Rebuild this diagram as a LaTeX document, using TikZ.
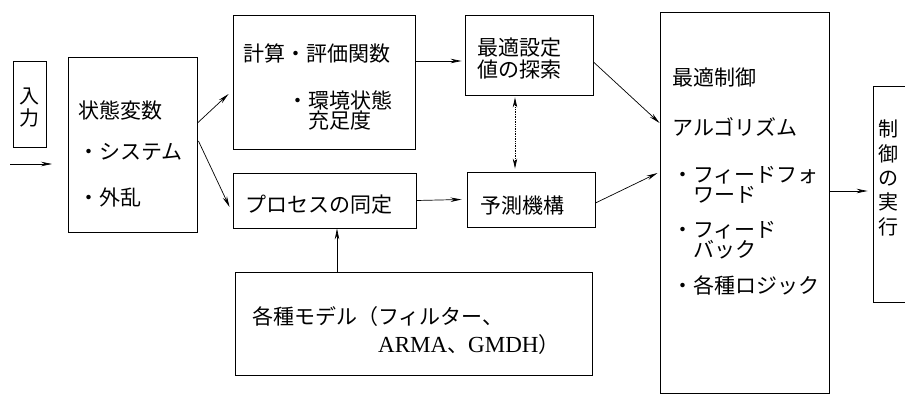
\documentclass[tikz,border=0pt]{standalone}
\usepackage{fontspec}
\setmainfont{Liberation Serif}
\newfontfamily\cjk{Noto Sans CJK JP}
\usetikzlibrary{arrows.meta}
\begin{document}
\begin{tikzpicture}[x=1pt,y=-1pt,
  box/.style={draw,line width=0.9pt,inner sep=0pt},
  txt/.style={anchor=west,inner sep=0pt,font=\cjk\fontsize{21}{22}\selectfont},
  two/.style={anchor=west,inner sep=0pt,align=left,font=\cjk\fontsize{21}{19.5}\selectfont},
  vtxt/.style={inner sep=0pt,align=center},
  arr/.style={-{Stealth[length=11pt,width=4.5pt]},line width=0.7pt},
  darr/.style={{Stealth[length=10pt,width=4.5pt]}-{Stealth[length=10pt,width=4.5pt]},line width=0.7pt,densely dotted}]
\useasboundingbox (0,0) rectangle (905,396);
% boxes
\node[box,minimum width=33pt,minimum height=86pt] (inbox) at (29.5,104) {};
\node[box,minimum width=129pt,minimum height=175pt] (state) at (132.5,144.5) {};
\node[box,minimum width=182pt,minimum height=134pt] (calc) at (324,82) {};
\node[box,minimum width=128pt,minimum height=80pt] (opt) at (529,55) {};
\node[box,minimum width=183pt,minimum height=55pt] (proc) at (324.5,200.5) {};
\node[box,minimum width=128pt,minimum height=55pt] (pred) at (531,199.5) {};
\node[box,minimum width=357pt,minimum height=103pt] (model) at (413.5,323.5) {};
\node[box,minimum width=169pt,minimum height=381pt] (ctrl) at (744.5,202.5) {};
\node[box,minimum width=44pt,minimum height=216pt] (exec) at (895,194) {};
% texts
\node[vtxt,font=\cjk\fontsize{20}{22}\selectfont] (tin) at (29.5,108) {入\\力};
\node[txt] (s1) at (78,110) {状態変数};
\node[txt] (s2) at (78,152) {・システム};
\node[txt] (s3) at (78,197) {・外乱};
\node[txt] (c1) at (243,53) {計算・評価関数};
\node[txt] (c2) at (287,100) {・環境状態};
\node[txt] (c3) at (308,121) {充足度};
\node[txt] (o1) at (477,48) {最適設定};
\node[txt] (o2) at (477,70) {値の探索};
\node[txt] (p1) at (245,205) {プロセスの同定};
\node[txt] (r1) at (480,206) {予測機構};
\node[txt] (m1) at (252,317) {各種モデル（フィルター、};
\node[txt] (m2) at (378,345) {{\rmfamily\fontsize{23}{22}\selectfont ARMA}、{\rmfamily\fontsize{23}{22}\selectfont GMDH}）};
\node[txt] (k1) at (672,78) {最適制御};
\node[txt] (k2) at (672,127) {アルゴリズム};
\node[two] (k3) at (672,185) {・フィードフォ\\\hspace*{1em}ワード};
\node[two] (k5) at (672,240) {・フィード\\\hspace*{1em}バック};
\node[txt] (k7) at (672,285) {・各種ロジック};
\node[vtxt,font=\cjk\fontsize{20}{24.3}\selectfont] (tex) at (888,178) {制\\御\\の\\実\\行};
% connectors
\coordinate (inA) at (10,164);
\coordinate (inB) at (52,164);
\draw[arr] (inA) -- (inB);
\draw[arr] ([yshift=21.5pt]state.east) -- ([xshift=-4pt,yshift=-12pt]calc.west);
\draw[arr] ([xshift=1pt,yshift=3.5pt]state.east) -- ([xshift=-3pt,yshift=-6.5pt]proc.west);
\draw[arr] ([yshift=21pt]calc.east) -- ([xshift=-3pt,yshift=-6pt]opt.west);
\draw[arr] (proc.east) -- ([xshift=-5pt]pred.west);
\draw[darr] ([xshift=-14pt,yshift=-2pt]opt.south) -- ([xshift=-16pt,yshift=3pt]pred.north);
\draw[arr] ([xshift=12.5pt]proc.south |- model.north) -- ([xshift=12.5pt]proc.south);
\draw[arr] ([yshift=-7pt]opt.east) -- ([yshift=79.5pt]ctrl.west);
\draw[arr] ([yshift=-3.5pt]pred.east) -- ([xshift=-2pt,yshift=29.5pt]ctrl.west);
\draw[arr] ([yshift=11.5pt]ctrl.east) -- ([xshift=-5pt,yshift=3pt]exec.west);
\end{tikzpicture}
\end{document}
